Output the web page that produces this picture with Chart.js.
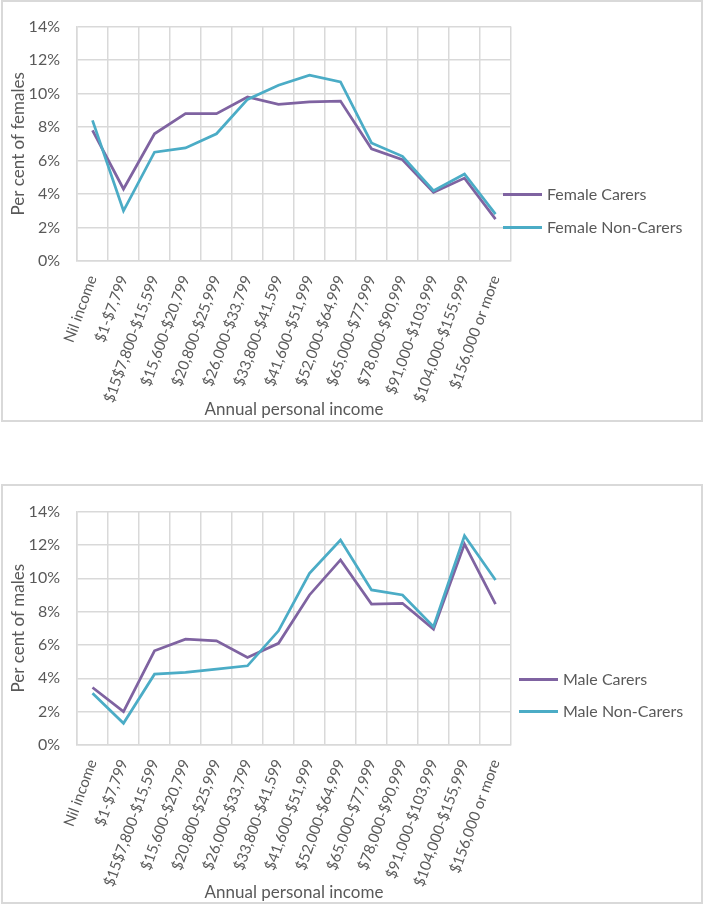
<!DOCTYPE html>
<html>
<head>
<meta charset="utf-8">
<script src="https://cdn.jsdelivr.net/npm/chart.js@4.4.1/dist/chart.umd.min.js"></script>
<style>
  html, body { margin: 0; padding: 0; background: #ffffff; }
  body { width: 703px; height: 907px; position: relative; overflow: hidden; font-family: Lato, "Open Sans", sans-serif; }
  .box { position: absolute; box-sizing: border-box; border: 2px solid #d9d9d9; background: #fff; }
  canvas { position: absolute; left: 0; }
  .leg { position: absolute; display: flex; align-items: center; font-size: 16px; color: #595959; white-space: nowrap; line-height: 20px; }
  .leg span.sw { display: inline-block; width: 39px; height: 3px; margin-right: 5px; }
</style>
</head>
<body>
<div class="box" style="left:1px; top:0px; width:702px; height:422px;"></div>
<div class="box" style="left:1px; top:484px; width:702px; height:420px;"></div>
<canvas id="c1" width="703" height="421" style="top:0px; width:703px; height:421px;"></canvas>
<canvas id="c2" width="703" height="418" style="top:485px; width:703px; height:418px;"></canvas>

<div class="leg" style="left:503px; top:184px;"><span class="sw" style="background:#7f63a1"></span>Female Carers</div>
<div class="leg" style="left:503px; top:217px;"><span class="sw" style="background:#4bacc6"></span>Female Non-Carers</div>
<div class="leg" style="left:519px; top:669px;"><span class="sw" style="background:#7f63a1"></span>Male Carers</div>
<div class="leg" style="left:519px; top:701px;"><span class="sw" style="background:#4bacc6"></span>Male Non-Carers</div>

<script>
// ---- data ----
const categories = [
  "Nil income", "$1-$7,799", "$15$7,800-$15,599", "$15,600-$20,799", "$20,800-$25,999",
  "$26,000-$33,799", "$33,800-$41,599", "$41,600-$51,999", "$52,000-$64,999",
  "$65,000-$77,999", "$78,000-$90,999", "$91,000-$103,999", "$104,000-$155,999", "$156,000 or more"
];
const femaleCarers    = [7.8, 4.3, 7.6, 8.8, 8.8, 9.8, 9.35, 9.5, 9.55, 6.7, 6.05, 4.1, 4.95, 2.5];
const femaleNonCarers = [8.4, 3.0, 6.5, 6.75, 7.6, 9.65, 10.5, 11.1, 10.7, 7.05, 6.25, 4.2, 5.2, 2.8];
const maleCarers      = [3.45, 2.0, 5.65, 6.35, 6.25, 5.25, 6.1, 9.0, 11.1, 8.45, 8.5, 6.95, 12.05, 8.45];
const maleNonCarers   = [3.1, 1.3, 4.25, 4.35, 4.55, 4.75, 6.85, 10.3, 12.3, 9.3, 9.0, 7.1, 12.55, 9.9];
const yTickValues = [0, 2, 4, 6, 8, 10, 12, 14];
const seriesNames = { f: ["Female Carers", "Female Non-Carers"], m: ["Male Carers", "Male Non-Carers"] };
const yTitles = { f: "Per cent of females", m: "Per cent of males" };
const xTitle = "Annual personal income";

const PURPLE = "#7f63a1", TEAL = "#4bacc6", GRID = "#d9d9d9", TEXT = "#595959";
const FONT = "Lato, 'Open Sans', sans-serif";

function makeChart(id, carers, nonCarers, names, yTitle, padTop, xHeight, titlePadBottom) {
  return new Chart(document.getElementById(id), {
    type: "line",
    data: {
      labels: categories,
      datasets: [
        { label: names[0], data: carers, borderColor: PURPLE, backgroundColor: PURPLE, borderWidth: 2.75, pointRadius: 0, tension: 0, order: 1 },
        { label: names[1], data: nonCarers, borderColor: TEAL, backgroundColor: TEAL, borderWidth: 2.75, pointRadius: 0, tension: 0, order: 0 }
      ]
    },
    options: {
      responsive: false,
      animation: false,
      devicePixelRatio: 1,
      layout: { padding: { left: 0, right: 192, top: padTop, bottom: 0 } },
      plugins: { legend: { display: false }, tooltip: { enabled: false } },
      scales: {
        x: {
          type: "category",
          offset: true,
          grid: { offset: true, color: GRID, lineWidth: 1.5, drawTicks: false },
          border: { color: GRID, width: 1.5 },
          ticks: { color: TEXT, font: { family: FONT, size: 15 }, minRotation: 70, maxRotation: 70, padding: 12, autoSkip: false },
          title: { display: true, text: xTitle, color: TEXT, font: { family: FONT, size: 17 }, padding: { top: 0, bottom: titlePadBottom } },
          afterFit: s => { s.height = xHeight; }
        },
        y: {
          min: 0, max: 14,
          afterBuildTicks: s => { s.ticks = yTickValues.map(v => ({ value: v })); },
          grid: { color: GRID, lineWidth: 1.5, drawTicks: false },
          border: { color: GRID, width: 1.5 },
          ticks: { color: TEXT, font: { family: FONT, size: 16 }, padding: 17, callback: v => v + "%" },
          title: { display: true, text: yTitle, color: TEXT, font: { family: FONT, size: 17 }, padding: { top: 8, bottom: 0 } },
          afterFit: s => { s.width = 77; }
        }
      }
    }
  });
}

makeChart("c1", femaleCarers, femaleNonCarers, seriesNames.f, yTitles.f, 19, 160, 1);
makeChart("c2", maleCarers, maleNonCarers, seriesNames.m, yTitles.m, 17, 158, 0);
</script>
</body>
</html>
